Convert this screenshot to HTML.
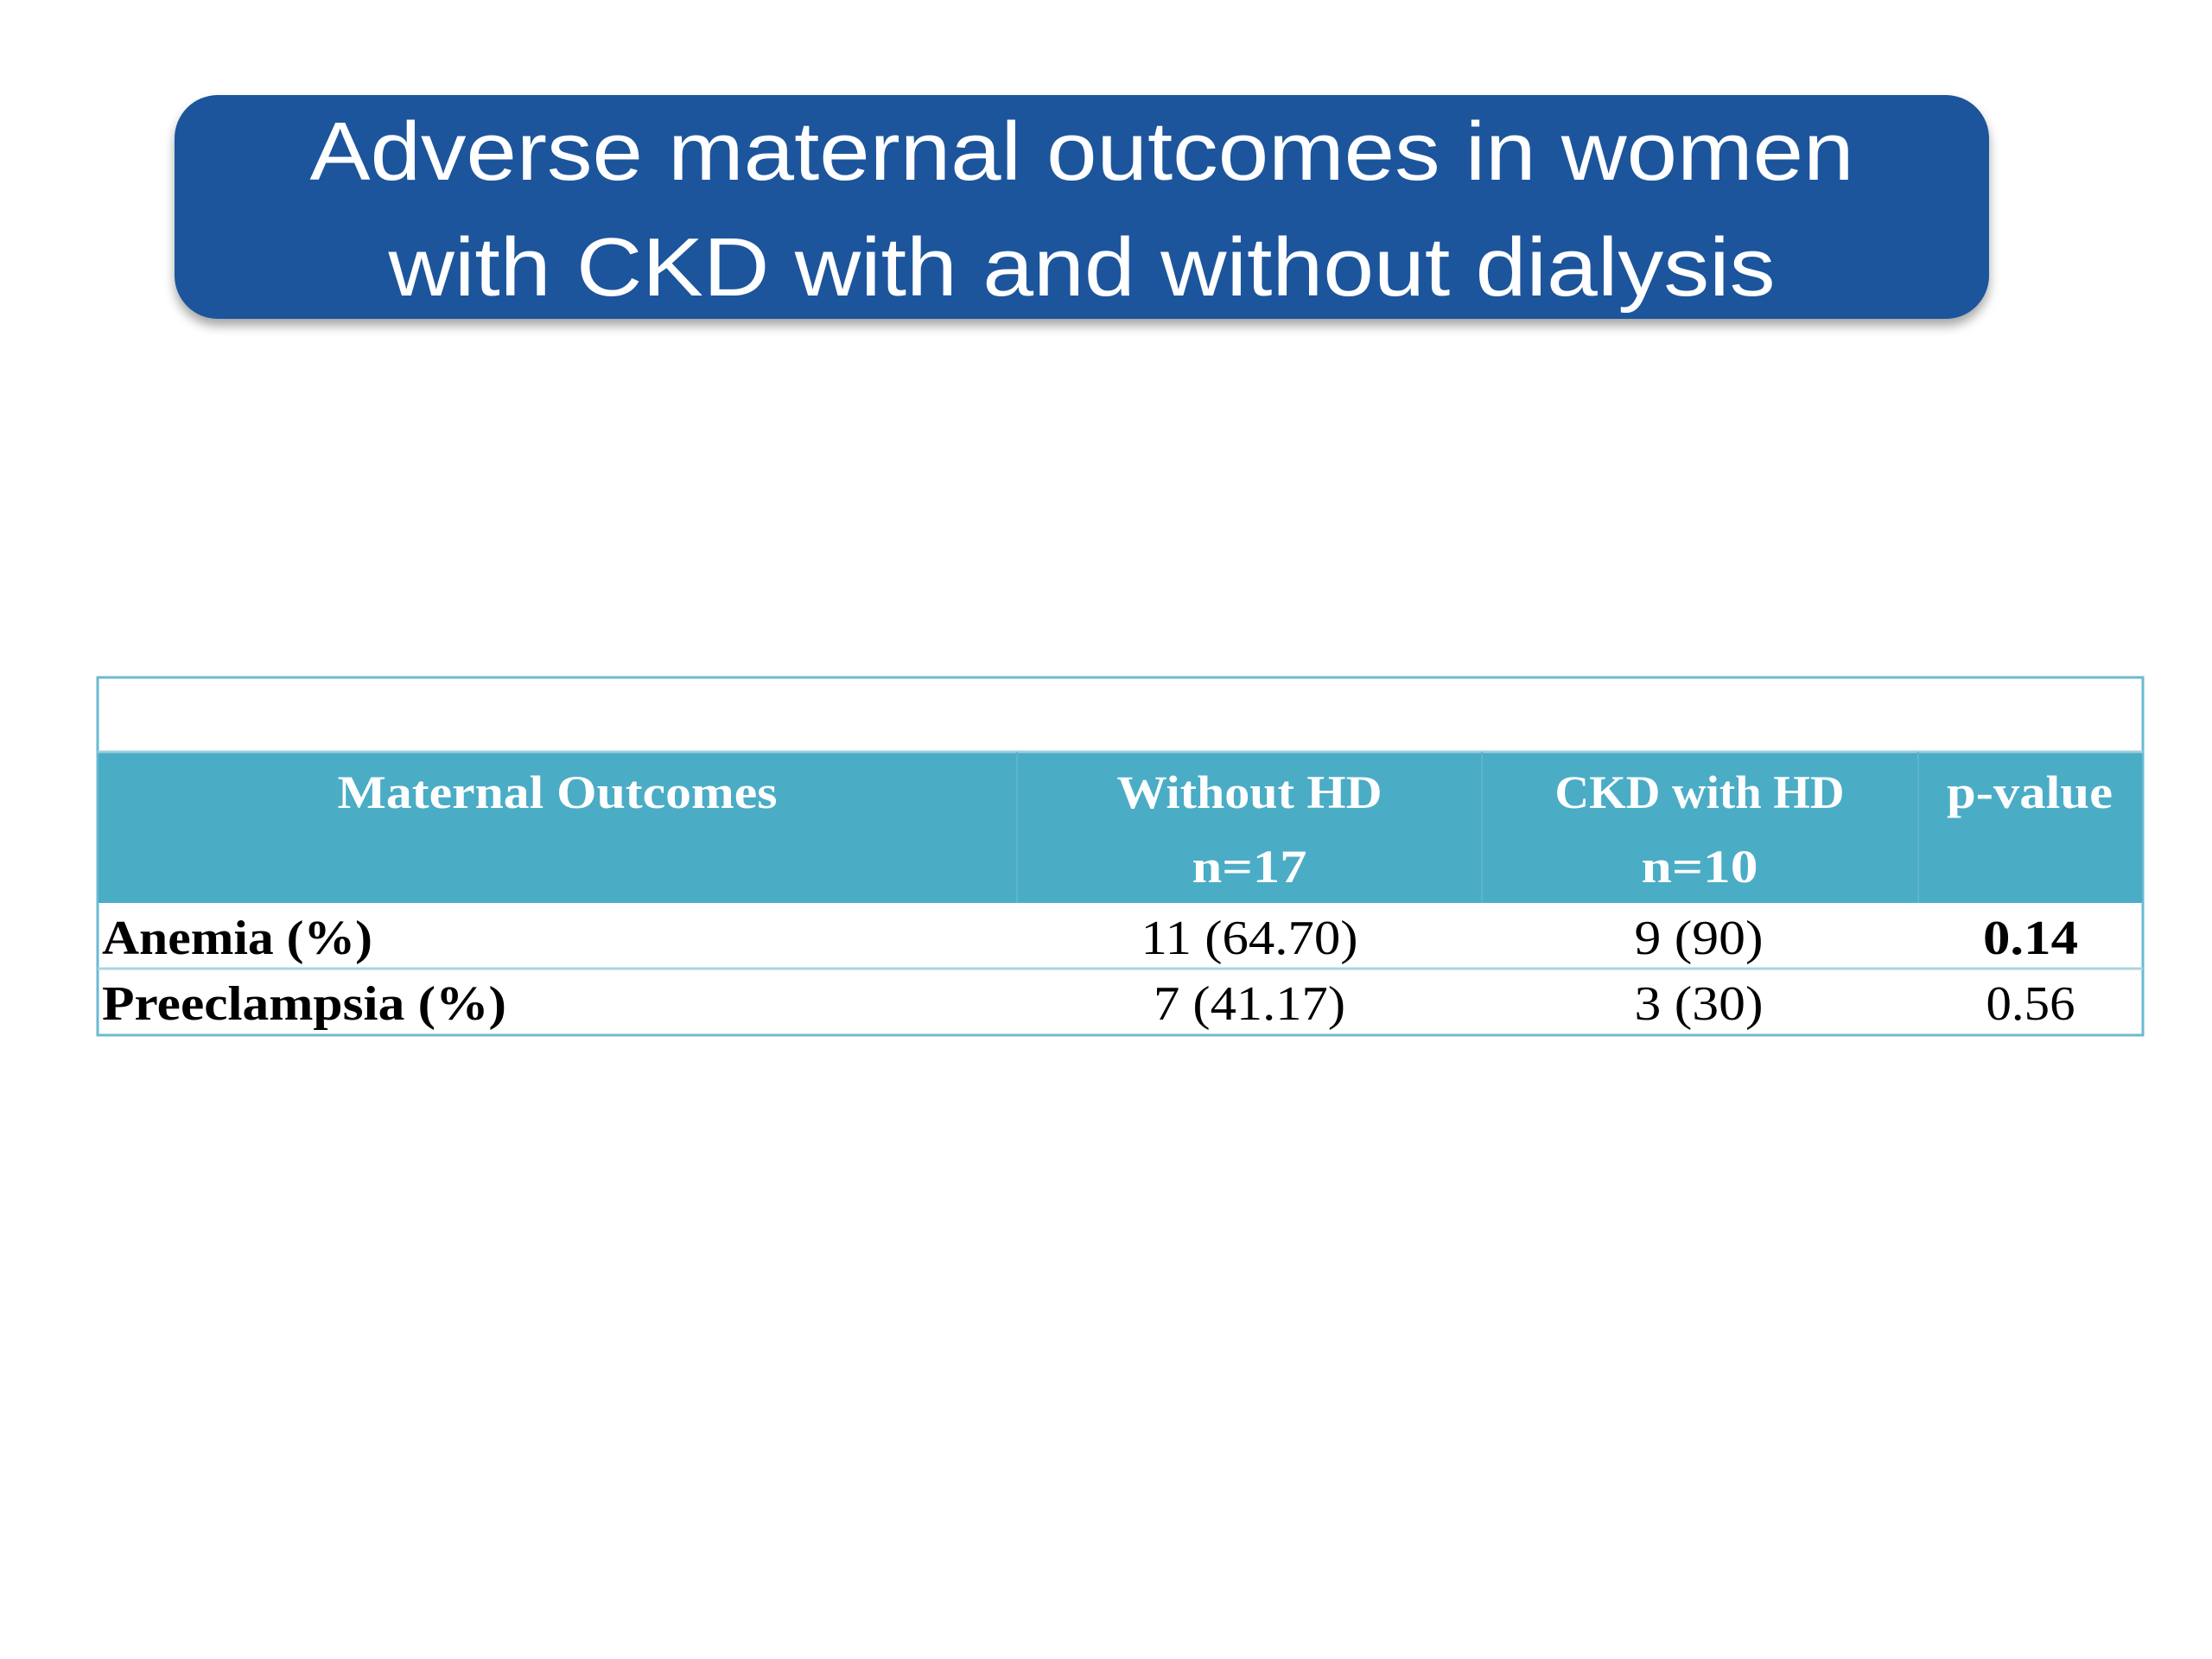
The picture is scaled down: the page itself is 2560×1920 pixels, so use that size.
<!DOCTYPE html>
<html><head><meta charset="utf-8"><style>
html,body{margin:0;padding:0;background:#fff;}
svg{display:block;}
</style></head><body>
<svg width="2560" height="1920" viewBox="0 0 2560 1920" xmlns="http://www.w3.org/2000/svg">
<defs>
<filter id="sh" x="-5%" y="-10%" width="110%" height="130%"><feDropShadow dx="0" dy="8" stdDeviation="6" flood-color="#000" flood-opacity="0.35"/></filter>
</defs>
<g>
<rect x="202" y="110" width="2100" height="259" rx="50" ry="50" fill="#1a559c" filter="url(#sh)"/>
<text x="1252" y="208" text-anchor="middle" font-family="Liberation Sans, DejaVu Sans, sans-serif" font-size="96" fill="#fff" textLength="1787" lengthAdjust="spacingAndGlyphs">Adverse maternal outcomes in women</text>
<text x="1252" y="342" text-anchor="middle" font-family="Liberation Sans, DejaVu Sans, sans-serif" font-size="96" fill="#fff" textLength="1605" lengthAdjust="spacingAndGlyphs">with CKD with and without dialysis</text>
</g>
<g font-family="Liberation Serif, DejaVu Serif, serif">
<rect x="113" y="784" width="2367" height="414" fill="#fff" stroke="#6bbad3" stroke-width="3"/>
<rect x="114" y="870" width="2365" height="175" fill="#4bacc6"/>
<line x1="113" y1="870" x2="2480" y2="870" stroke="#9fd0e0" stroke-width="3"/>
<line x1="1177" y1="870" x2="1177" y2="1045" stroke="#5cb5cd" stroke-width="2"/>
<line x1="1715" y1="870" x2="1715" y2="1045" stroke="#5cb5cd" stroke-width="2"/>
<line x1="2220" y1="870" x2="2220" y2="1045" stroke="#5cb5cd" stroke-width="2"/>
<line x1="113" y1="1121" x2="2480" y2="1121" stroke="#a8d5e3" stroke-width="3"/>
<g font-weight="bold" font-size="54" fill="#fff">
<text x="645" y="935" text-anchor="middle" textLength="509" lengthAdjust="spacingAndGlyphs">Maternal Outcomes</text>
<text x="1446" y="935" text-anchor="middle" textLength="307" lengthAdjust="spacingAndGlyphs">Without HD</text>
<text x="1446" y="1021" text-anchor="middle" textLength="133" lengthAdjust="spacingAndGlyphs">n=17</text>
<text x="1967" y="935" text-anchor="middle" textLength="335" lengthAdjust="spacingAndGlyphs">CKD with HD</text>
<text x="1967" y="1021" text-anchor="middle" textLength="135" lengthAdjust="spacingAndGlyphs">n=10</text>
<text x="2349" y="935" text-anchor="middle" textLength="192" lengthAdjust="spacingAndGlyphs">p-value</text>
</g>
<g font-size="56" fill="#000">
<text x="118" y="1104" font-weight="bold" textLength="313" lengthAdjust="spacingAndGlyphs">Anemia (%)</text>
<text x="1446" y="1104" text-anchor="middle" textLength="251" lengthAdjust="spacingAndGlyphs">11 (64.70)</text>
<text x="1966" y="1104" text-anchor="middle" textLength="149" lengthAdjust="spacingAndGlyphs">9 (90)</text>
<text x="2350" y="1104" text-anchor="middle" font-weight="bold" textLength="110" lengthAdjust="spacingAndGlyphs">0.14</text>
<text x="118" y="1180" font-weight="bold" textLength="468" lengthAdjust="spacingAndGlyphs">Preeclampsia (%)</text>
<text x="1446" y="1180" text-anchor="middle" textLength="222" lengthAdjust="spacingAndGlyphs">7 (41.17)</text>
<text x="1966" y="1180" text-anchor="middle" textLength="149" lengthAdjust="spacingAndGlyphs">3 (30)</text>
<text x="2350" y="1180" text-anchor="middle" textLength="103" lengthAdjust="spacingAndGlyphs">0.56</text>
</g>
</g>
</svg>
</body></html>
